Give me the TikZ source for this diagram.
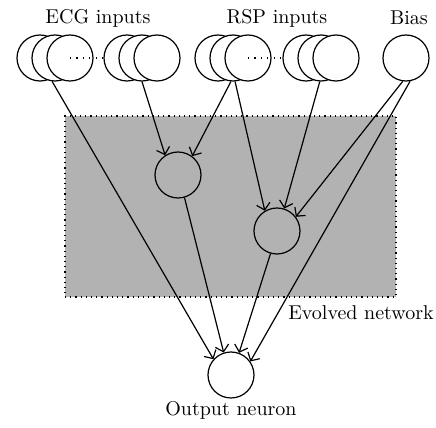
\documentclass[tikz,border=0pt]{standalone}
\usepackage{tikz}
\usetikzlibrary{arrows.meta, positioning}

\begin{document}
\begin{tikzpicture}[
    x=0.5pt, y=-0.5pt,
    every node/.style={font=\fontsize{10}{12}\selectfont},
    line width=0.6pt,
    % Neurons
    neuron/.style={draw, circle, minimum size=23pt, inner sep=0pt},
    inputneuron/.style={neuron, fill=white},
    % Connections
    arrow/.style={-{Straight Barb[length=1.1mm, width=2.4mm]}},
    % Elided neurons
    gapdots/.style={dash pattern=on 0.6pt off 2.6pt}
]
\useasboundingbox (0,0) rectangle (436,428);

% === EVOLVED NETWORK REGION ===
\node (net) [draw, dotted, fill=black!30, minimum width=165.5pt,
    minimum height=90.5pt, inner sep=0pt] at (230.5,206.5) {};
\node (netlabel) at (361,313) {Evolved network};

% === INPUT LAYER ===

% ECG inputs
\node[inputneuron] (ecgA) at (40,58) {};
\node[inputneuron] (ecgB) at (55,58) {};
\node[inputneuron] (ecgC) at (70,58) {};
\node[inputneuron] (ecgD) at (127,58) {};
\node[inputneuron] (ecgE) at (142,58) {};
\node[inputneuron] (ecgF) at (157,58) {};
\draw[gapdots] (ecgC.center) -- (ecgD.west);
\node (ecglabel) at (98,18) {ECG inputs};

% RSP inputs
\node[inputneuron] (rspA) at (218,58) {};
\node[inputneuron] (rspB) at (233,58) {};
\node[inputneuron] (rspC) at (248,58) {};
\node[inputneuron] (rspD) at (306,58) {};
\node[inputneuron] (rspE) at (321,58) {};
\node[inputneuron] (rspF) at (336,58) {};
\draw[gapdots] (rspC.center) -- (rspD.west);
\node (rsplabel) at (277,18) {RSP inputs};

% Bias
\node[inputneuron] (bias) at (406,58) {};
\node (biaslabel) at (409,18) {Bias};

% === HIDDEN AND OUTPUT NEURONS ===
\node[neuron] (hidA) at (178,175) {};
\node[neuron] (hidB) at (277,231) {};
\node[neuron] (out) at (231,375) {};
\node (outlabel) at (231,410) {Output neuron};

% === CONNECTIONS ===
\draw[arrow] (ecgB.-97) -- (out.138);
\draw[arrow] (ecgE.-90) -- (hidA.123);
\draw[arrow] (rspB.-95) -- (hidA.53);
\draw[arrow] (rspB.-85) -- (hidB.121);
\draw[arrow] (rspE.-93) -- (hidB.72);
\draw[arrow] (bias.-98) -- (hidB.37);
\draw[arrow] (bias.-80) -- (out.35);
\draw[arrow] (hidA.-74) -- (out.108);
\draw[arrow] (hidB.-106) -- (out.70);

\end{tikzpicture}
\end{document}
